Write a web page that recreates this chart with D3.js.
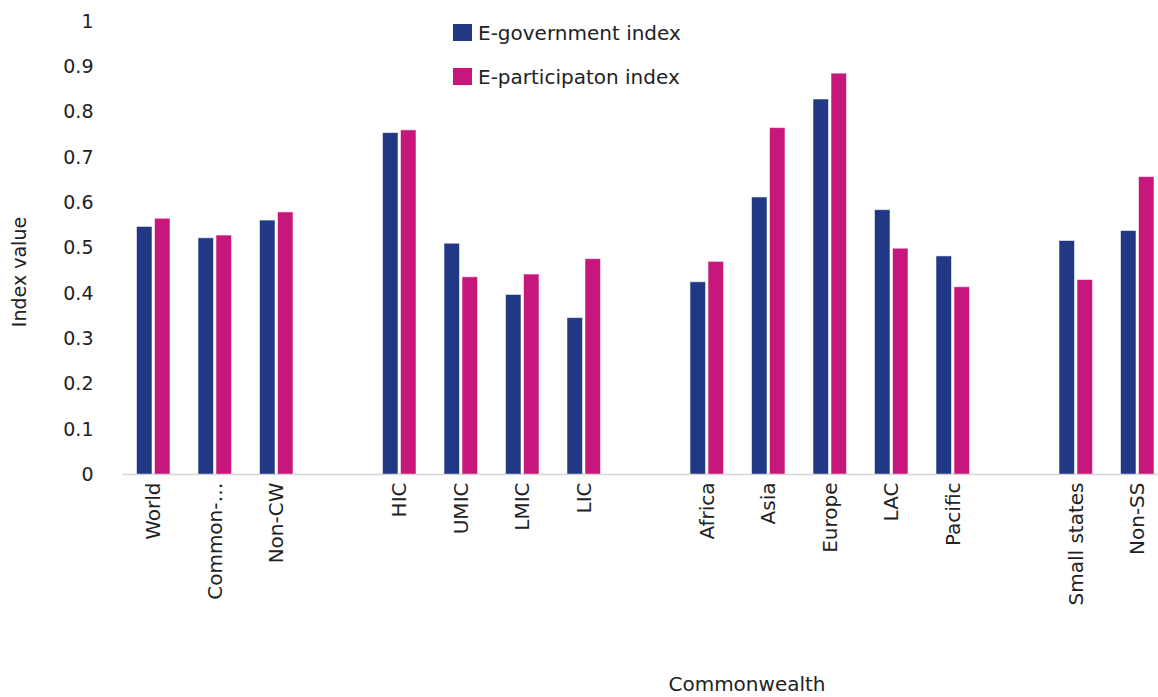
<!DOCTYPE html>
<html>
<head>
<meta charset="utf-8">
<script src="https://cdn.jsdelivr.net/npm/d3@7"></script>
<style>
  html, body { margin: 0; padding: 0; background: #fff; }
  svg { display: block; font-family: "DejaVu Sans", "Open Sans", sans-serif; }
</style>
</head>
<body>
<svg id="chart" width="1158" height="697"></svg>
<script>
// Categories; empty strings are spacer slots between groups
const categories = ["World", "Common-…", "Non-CW", "",
  "HIC", "UMIC", "LMIC", "LIC", "",
  "Africa", "Asia", "Europe", "LAC", "Pacific", "",
  "Small states", "Non-SS"];
const egovIndex = [0.547, 0.522, 0.561, null,
  0.754, 0.510, 0.397, 0.346, null,
  0.425, 0.612, 0.828, 0.584, 0.482, null,
  0.516, 0.538];
const epartIndex = [0.565, 0.528, 0.579, null,
  0.760, 0.436, 0.442, 0.476, null,
  0.470, 0.765, 0.885, 0.499, 0.414, null,
  0.430, 0.657];
const seriesNames = ["E-government index", "E-participaton index"];
const yTicks = [0, 0.1, 0.2, 0.3, 0.4, 0.5, 0.6, 0.7, 0.8, 0.9, 1];

const colors = ["#213884", "#C8177C"];
const textColor = "#222";
const svg = d3.select("#chart");
const x0 = 122.5, slot = 61.5;
const x = d3.scaleBand()
  .domain(d3.range(categories.length))
  .range([x0, x0 + slot * categories.length])
  .paddingInner(0).paddingOuter(0);
const y = d3.scaleLinear().domain([0, 1]).range([474.5, 21]);

const barW = 15.5, barGap = 2.5;
const series = [egovIndex, epartIndex];

// y tick labels (no axis line)
const yAxis = svg.append("g")
  .attr("transform", `translate(${x0},0)`)
  .call(d3.axisLeft(y).tickValues(yTicks).tickSize(0).tickPadding(29)
    .tickFormat(d => d3.format("~g")(d)));
yAxis.select(".domain").remove();
yAxis.selectAll("text").attr("font-size", 19).attr("fill", textColor)
  .attr("font-family", "DejaVu Sans, sans-serif");

// bars
series.forEach((vals, si) => {
  svg.append("g").selectAll("rect")
    .data(vals.map((v, i) => ({ v, i })).filter(d => d.v != null))
    .join("rect")
    .attr("x", d => x(d.i) + x.bandwidth() / 2 - barW - barGap / 2 + si * (barW + barGap))
    .attr("width", barW)
    .attr("y", d => y(d.v))
    .attr("height", d => y(0) - y(d.v))
    .attr("fill", colors[si])
    .attr("stroke", "rgba(255,255,255,0.55)")
    .attr("stroke-width", 1);
});

// x axis
svg.append("line")
  .attr("x1", x0).attr("x2", 1158)
  .attr("y1", y(0)).attr("y2", y(0))
  .attr("stroke", "#d6d6d6").attr("stroke-width", 1.5);

const xAxis = svg.append("g")
  .attr("transform", `translate(0,${y(0)})`)
  .call(d3.axisBottom(x).tickSize(0).tickFormat(i => categories[i]));
xAxis.select(".domain").remove();
xAxis.selectAll("text")
  .attr("font-size", 20).attr("fill", textColor)
  .attr("font-family", "DejaVu Sans, sans-serif")
  .attr("transform", "rotate(-90)")
  .attr("text-anchor", "end")
  .attr("x", -8).attr("y", 0).attr("dy", "0.35em");

// axis titles
svg.append("text")
  .attr("transform", "translate(19,272) rotate(-90)")
  .attr("text-anchor", "middle").attr("dy", "0.35em")
  .attr("font-size", 19).attr("fill", textColor)
  .text("Index value");
svg.append("text")
  .attr("x", 747).attr("y", 691)
  .attr("text-anchor", "middle")
  .attr("font-size", 20).attr("fill", textColor)
  .text("Commonwealth");

// legend
const legend = svg.append("g");
seriesNames.forEach((name, i) => {
  const ly = 24 + i * 44;
  legend.append("rect").attr("x", 453).attr("y", ly)
    .attr("width", 19).attr("height", 17).attr("fill", colors[i]);
  legend.append("text").attr("x", 478).attr("y", ly + 8.5)
    .attr("dy", "0.35em").attr("font-size", 20).attr("fill", textColor)
    .text(name);
});
</script>
</body>
</html>
